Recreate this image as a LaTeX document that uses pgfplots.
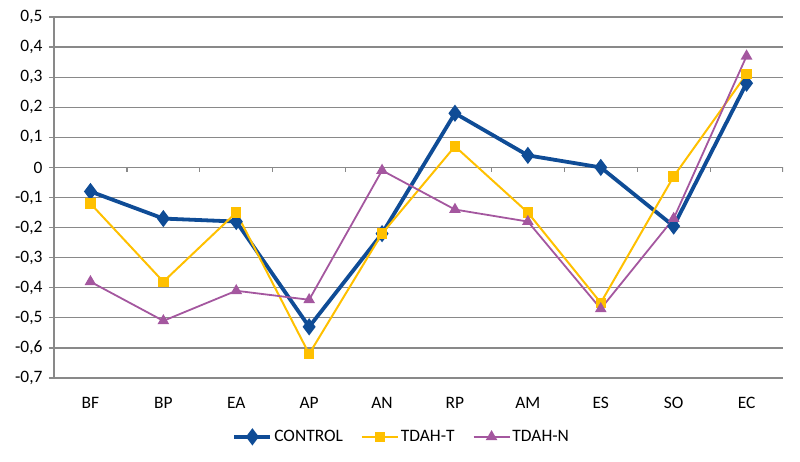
\documentclass[border=0pt]{standalone}
\usepackage{pgfplots}
\pgfplotsset{compat=1.18}
\usepackage{fontspec}
\setmainfont{Carlito}
\definecolor{ctrl}{HTML}{0F4C96}
\definecolor{tdaht}{HTML}{FFC000}
\definecolor{tdahn}{HTML}{A4579F}
\definecolor{gridc}{HTML}{898989}
\newcommand{\tickfont}{\fontsize{17.5}{20}\selectfont}
\begin{document}
\begin{tikzpicture}
\path[use as bounding box] (-54bp,-84bp) rectangle (746bp,378bp);
\begin{axis}[
  at={(0,0)}, anchor=south west,
  scale only axis,
  width=729bp, height=361bp,
  xmin=-0.5, xmax=9.5,
  ymin=-0.7, ymax=0.5,
  ytick={-0.7,-0.6,...,0.51},
  xtick={0,...,9},
  xticklabels={BF,BP,EA,AP,AN,RP,AM,ES,SO,EC},
  axis lines*=left,
  axis line style={gridc, line width=1.2bp},
  ymajorgrids,
  grid style={gridc, line width=1.2bp},
  tick align=outside,
  y tick style={gridc, line width=1.2bp},
  major tick length=5bp,
  x tick style={draw=none},
  every tick label/.append style={font=\tickfont},
  xticklabel style={yshift=-11bp, font=\tickfont},
  yticklabel style={xshift=-3bp, font=\tickfont, /pgf/number format/.cd, fixed, precision=1, use comma, assume math mode=true},
  legend columns=3,
  legend style={draw=none, fill=none, at={(0.477,-0.163)}, anchor=center,
    font=\tickfont, /tikz/every even column/.append style={column sep=16bp}},
  legend image code/.code={\draw[mark repeat=2,mark phase=2] plot coordinates {(0bp,0bp)(18bp,0bp)(36bp,0bp)};},
]
\foreach \k in {0,...,10} {
  \edef\tmp{\noexpand\draw[gridc, line width=1.2bp] (axis cs:{\k-0.5},0) -- ([yshift=-5bp]axis cs:{\k-0.5},0);}
  \tmp
}
\addplot[ctrl, line width=3.8bp, mark=diamond*, mark size=5.5bp] coordinates {
  (0,-0.08) (1,-0.17) (2,-0.18) (3,-0.53) (4,-0.22) (5,0.18) (6,0.04) (7,0.00) (8,-0.195) (9,0.28)
};
\addplot[tdaht, line width=2bp, mark=square*, mark size=4.2bp] coordinates {
  (0,-0.12) (1,-0.38) (2,-0.15) (3,-0.62) (4,-0.22) (5,0.07) (6,-0.15) (7,-0.45) (8,-0.03) (9,0.31)
};
\addplot[tdahn, line width=1.8bp, mark=triangle*, mark size=5bp] coordinates {
  (0,-0.38) (1,-0.51) (2,-0.41) (3,-0.44) (4,-0.01) (5,-0.14) (6,-0.18) (7,-0.47) (8,-0.17) (9,0.37)
};
\legend{CONTROL,TDAH-T,TDAH-N}
\end{axis}
\end{tikzpicture}
\end{document}
